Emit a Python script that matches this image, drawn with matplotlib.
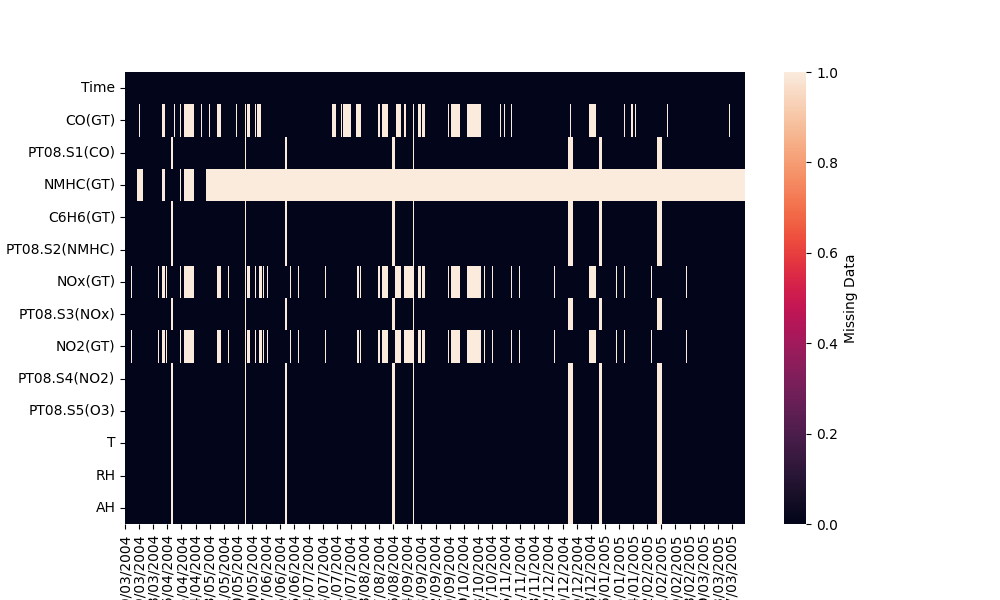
import numpy as np
import matplotlib
matplotlib.use("Agg")
import matplotlib.pyplot as plt
import seaborn as sns

# ---- data -------------------------------------------------------------
variables = ["Time", "CO(GT)", "PT08.S1(CO)", "NMHC(GT)", "C6H6(GT)",
             "PT08.S2(NMHC)", "NOx(GT)", "PT08.S3(NOx)", "NO2(GT)",
             "PT08.S4(NO2)", "PT08.S5(O3)", "T", "RH", "AH"]

n_hours = 9357          # hourly records 10/03/2004 18:00 -> 04/04/2005 14:00
tick_every = 213

tick_labels = ["10/03/2004", "19/03/2004", "28/03/2004", "06/04/2004", "15/04/2004",
               "24/04/2004", "03/05/2004", "11/05/2004", "20/05/2004", "29/05/2004",
               "07/06/2004", "16/06/2004", "25/06/2004", "04/07/2004", "13/07/2004",
               "21/07/2004", "30/07/2004", "08/08/2004", "17/08/2004", "26/08/2004",
               "04/09/2004", "13/09/2004", "22/09/2004", "30/09/2004", "09/10/2004",
               "18/10/2004", "27/10/2004", "05/11/2004", "14/11/2004", "23/11/2004",
               "02/12/2004", "10/12/2004", "19/12/2004", "28/12/2004", "06/01/2005",
               "15/01/2005", "24/01/2005", "02/02/2005", "11/02/2005", "19/02/2005",
               "28/02/2005", "09/03/2005", "18/03/2005", "27/03/2005"]

# missing-value intervals (row index start, end)
sensor_gaps = [(690, 720), (1806, 1826), (2415, 2445), (4030, 4070),
               (4342, 4360), (6686, 6761), (7154, 7199), (8029, 8104)]

co_gaps = [(211, 226), (558, 599), (735, 750), (826, 845), (886, 1037),
           (1147, 1162), (1268, 1283), (1388, 1449), (1675, 1690), (1806, 1826),
           (1841, 1887), (1962, 1982), (1992, 2053), (3124, 3184), (3260, 3275),
           (3290, 3411), (3486, 3562), (3818, 3848), (3879, 3969), (4090, 4165),
           (4211, 4241), (4342, 4360), (4422, 4467), (4482, 4528), (4875, 4890),
           (4920, 5056), (5161, 5373), (5660, 5675), (5720, 5735), (5826, 5841),
           (6716, 6731), (7003, 7108), (7531, 7546), (7637, 7667), (7697, 7712),
           (8180, 8195), (9116, 9131)]

nmhc_gaps = [(181, 267), (558, 604), (830, 845), (890, 1041), (1222, 9357)]

nox_gaps = [(91, 106), (498, 513), (558, 604), (619, 634), (830, 845),
            (890, 1041), (1147, 1148), (1388, 1449), (1554, 1570), (1806, 1826),
            (1841, 1887), (1962, 1977), (2022, 2068), (2083, 2098), (2143, 2158),
            (2490, 2505), (2611, 2626), (3018, 3033), (3501, 3532), (3547, 3562),
            (3818, 3848), (3879, 3969), (4075, 4165), (4211, 4360), (4422, 4467),
            (4482, 4528), (4875, 4890), (4920, 5056), (5161, 5373), (5418, 5433),
            (5539, 5554), (5826, 5841), (5946, 5961), (6067, 6068), (6474, 6490),
            (7003, 7108), (7410, 7425), (7531, 7546), (7938, 7953), (8467, 8482)]

no2_extra_gaps = [(211, 212), (1675, 1676), (3139, 3140), (3456, 3457),
                  (4603, 4604), (5131, 5132), (6595, 6596), (8059, 8060)]

gaps_by_variable = {
    "Time": [],
    "CO(GT)": co_gaps,
    "PT08.S1(CO)": sensor_gaps,
    "NMHC(GT)": nmhc_gaps,
    "C6H6(GT)": sensor_gaps,
    "PT08.S2(NMHC)": sensor_gaps,
    "NOx(GT)": nox_gaps,
    "PT08.S3(NOx)": sensor_gaps,
    "NO2(GT)": nox_gaps + no2_extra_gaps,
    "PT08.S4(NO2)": sensor_gaps,
    "PT08.S5(O3)": sensor_gaps,
    "T": sensor_gaps,
    "RH": sensor_gaps,
    "AH": sensor_gaps,
}

# ---- build missing mask ----------------------------------------------
mask = np.zeros((len(variables), n_hours))
for i, var in enumerate(variables):
    for s, e in gaps_by_variable[var]:
        mask[i, s:e] = 1.0

# ---- plot -------------------------------------------------------------
fig, ax = plt.subplots(figsize=(10, 6), dpi=100)
fig.subplots_adjust(left=0.125, right=0.9, top=0.88, bottom=76 / 600)

sns.heatmap(mask, ax=ax, cmap="rocket", vmin=0, vmax=1,
            yticklabels=variables, xticklabels=False,
            cbar_kws={"label": "Missing Data"})

ax.set_xticks(np.arange(0, n_hours, tick_every) + 0.5)
ax.set_xticklabels(tick_labels, rotation=90)
ax.tick_params(axis="x", bottom=True, length=3.5)
ax.set_yticklabels(variables, rotation=0)

fig.savefig("out.png", dpi=100)
